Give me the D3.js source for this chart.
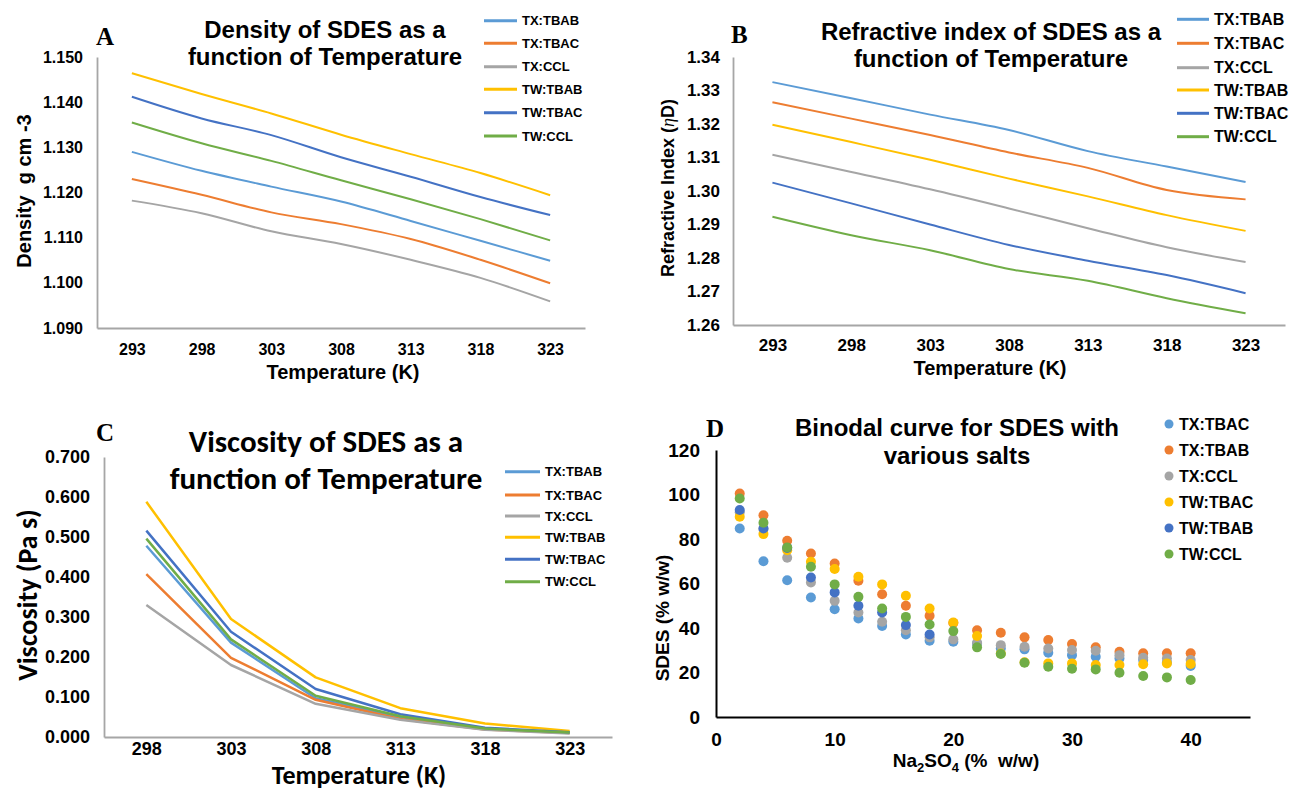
<!DOCTYPE html>
<html>
<head>
<meta charset="utf-8">
<script src="https://cdn.jsdelivr.net/npm/d3@7"></script>
<style>
body { margin: 0; background: #fff; }
svg { display: block; }
text { font-family: "Liberation Sans", Arial, sans-serif; font-weight: bold; fill: #000; white-space: pre; }
</style>
</head>
<body>
<div id="chart"></div>
<script>
// ---- data ----
const temps = [293, 298, 303, 308, 313, 318, 323];
const viscTemps = [298, 303, 308, 313, 318, 323];
const lineNames = ['TX:TBAB', 'TX:TBAC', 'TX:CCL', 'TW:TBAB', 'TW:TBAC', 'TW:CCL'];
const lineColors = ['#5b9bd5', '#ed7d31', '#a5a5a5', '#ffc000', '#4472c4', '#70ad47'];

const densTXTBAB = [1.1290, 1.1248, 1.1213, 1.1180, 1.1137, 1.1093, 1.1049];
const densTXTBAC = [1.1230, 1.1195, 1.1156, 1.1130, 1.1097, 1.1051, 1.0999];
const densTXCCL  = [1.1182, 1.1154, 1.1114, 1.1086, 1.1051, 1.1011, 1.0959];
const densTWTBAB = [1.1464, 1.1418, 1.1375, 1.1328, 1.1285, 1.1243, 1.1194];
const densTWTBAC = [1.1412, 1.1364, 1.1327, 1.1278, 1.1235, 1.1190, 1.1150];
const densTWCCL  = [1.1355, 1.1309, 1.1270, 1.1227, 1.1185, 1.1141, 1.1094];
const densTicks = [1.09, 1.10, 1.11, 1.12, 1.13, 1.14, 1.15];

const riTXTBAB = [1.3325, 1.3277, 1.3228, 1.3182, 1.3119, 1.3073, 1.3027];
const riTXTBAC = [1.3265, 1.3216, 1.3167, 1.3115, 1.3069, 1.3003, 1.2975];
const riTXCCL  = [1.3108, 1.3057, 1.3005, 1.2948, 1.2889, 1.2832, 1.2788];
const riTWTBAB = [1.3198, 1.3146, 1.3093, 1.3037, 1.2984, 1.2928, 1.2881];
const riTWTBAC = [1.3025, 1.2963, 1.2900, 1.2839, 1.2792, 1.2749, 1.2695];
const riTWCCL  = [1.2923, 1.2868, 1.2823, 1.2767, 1.2732, 1.2680, 1.2635];
const riTicks = [1.26, 1.27, 1.28, 1.29, 1.30, 1.31, 1.32, 1.33, 1.34];

const viscTXTBAB = [0.478, 0.236, 0.097, 0.050, 0.020, 0.011];
const viscTXTBAC = [0.407, 0.198, 0.093, 0.045, 0.019, 0.010];
const viscTXCCL  = [0.330, 0.180, 0.083, 0.043, 0.018, 0.009];
const viscTWTBAB = [0.588, 0.295, 0.149, 0.072, 0.034, 0.015];
const viscTWTBAC = [0.516, 0.263, 0.120, 0.057, 0.023, 0.012];
const viscTWCCL  = [0.496, 0.244, 0.103, 0.052, 0.021, 0.011];
const viscTicks = [0, 0.1, 0.2, 0.3, 0.4, 0.5, 0.6, 0.7];

const saltPct = [2, 4, 6, 8, 10, 12, 14, 16, 18, 20, 22, 24, 26, 28, 30, 32, 34, 36, 38, 40];
const scatterNames = ['TX:TBAC', 'TX:TBAB', 'TX:CCL', 'TW:TBAC', 'TW:TBAB', 'TW:CCL'];
const scatterColors = ['#5b9bd5', '#ed7d31', '#a5a5a5', '#ffc000', '#4472c4', '#70ad47'];
const binTXTBAC = [84.7, 70.0, 61.5, 53.7, 48.4, 44.3, 40.9, 37.1, 34.3, 33.8, 33.0, 30.8, 30.4, 28.9, 27.8, 27.1, 26.3, 25.6, 24.5, 22.9];
const binTXTBAB = [100.4, 90.7, 79.2, 73.5, 69.0, 61.2, 55.2, 50.0, 45.5, 42.3, 39.0, 37.9, 35.8, 34.6, 32.8, 31.3, 29.3, 28.6, 28.6, 28.6];
const binTXCCL  = [92.0, 84.5, 71.6, 60.5, 52.2, 47.0, 42.8, 39.0, 35.8, 34.9, 33.4, 32.3, 31.6, 30.8, 30.1, 29.8, 27.8, 26.6, 26.3, 25.6];
const binTWTBAC = [90.0, 82.2, 75.0, 69.8, 66.5, 63.0, 59.6, 54.5, 48.8, 42.5, 36.4, 28.5, 24.6, 24.1, 24.1, 23.4, 23.4, 23.7, 24.1, 23.8];
const binTWTBAB = [93.0, 84.7, 76.0, 62.7, 56.0, 50.0, 47.0, 41.3, 37.1, null, null, null, null, null, null, null, null, null, null, null];
const binTWCCL  = [98.2, 87.3, 76.2, 67.5, 59.6, 54.0, 48.8, 45.0, 41.6, 38.6, 31.3, 28.3, 24.4, 22.6, 21.7, 21.4, 19.9, 18.4, 17.8, 16.6];
const binXTicks = [0, 10, 20, 30, 40];
const binYTicks = [0, 20, 40, 60, 80, 100, 120];

// ---- drawing ----
const svg = d3.select('#chart').append('svg').attr('width', 1293).attr('height', 791);
const SERIF = '"Liberation Serif", "Times New Roman", serif';
const CAL = 'Carlito, Lato, "Open Sans", sans-serif';

function styleAxis(a, color, width, size, family) {
  a.select('.domain').attr('stroke', color).attr('stroke-width', width);
  a.selectAll('text').attr('font-size', size).attr('font-family', family)
    .attr('font-weight', 'bold').attr('fill', '#000');
}

function titleLines(g, lines, cx, ys, size, family) {
  const t = g.append('text').attr('text-anchor', 'middle').attr('font-size', size);
  if (family) t.style('font-family', family);
  lines.forEach((l, i) => t.append('tspan').attr('x', cx).attr('y', ys[i]).text(l));
}

function yTitle(g, cx, cy, size, family) {
  const t = g.append('text').attr('text-anchor', 'middle').attr('font-size', size)
    .attr('transform', 'translate(' + cx + ',' + cy + ') rotate(-90)').attr('dy', '0.35em');
  if (family) t.style('font-family', family);
  return t;
}

function linePanel(p) {
  const g = svg.append('g');
  const x = d3.scalePoint().domain(p.cats).range(p.xr).padding(0.5);
  const y = d3.scaleLinear().domain(p.dom).range(p.yr);
  const fam = '"Liberation Sans", Arial, sans-serif';
  const xa = g.append('g').attr('transform', 'translate(0,' + p.yr[0] + ')')
    .call(d3.axisBottom(x).tickSize(0).tickSizeOuter(0).tickPadding(p.xpad));
  const ya = g.append('g').attr('transform', 'translate(' + p.xr[0] + ',0)')
    .call(d3.axisLeft(y).tickValues(p.ticks).tickFormat(d3.format(p.fmt))
      .tickSize(0).tickSizeOuter(0).tickPadding(p.ypad));
  styleAxis(xa, '#a6a6a6', 1.8, p.tickSize, fam);
  styleAxis(ya, '#a6a6a6', 1.8, p.tickSize, fam);

  const line = d3.line().x((d, j) => x(p.cats[j])).y(d => y(d)).curve(p.curve);
  p.values.forEach((v, i) => {
    g.append('path').datum(v).attr('d', line).attr('fill', 'none')
      .attr('stroke', lineColors[i]).attr('stroke-width', p.lw)
      .attr('stroke-linejoin', 'round');
  });

  // legend
  lineNames.forEach((n, i) => {
    const ly = p.legY[i];
    g.append('line').attr('x1', p.legX).attr('x2', p.legX + p.legLen)
      .attr('y1', ly).attr('y2', ly).attr('stroke', lineColors[i]).attr('stroke-width', 3);
    g.append('text').attr('x', p.legX + p.legLen + 5).attr('y', ly).attr('dy', '0.35em')
      .attr('font-size', p.legSize).text(n);
  });

  titleLines(g, p.title, p.titleX, p.titleY, p.titleSize, p.titleFamily);
  g.append('text').attr('x', p.letter[1]).attr('y', p.letter[2]).attr('font-size', 25)
    .style('font-family', SERIF).text(p.letter[0]);
  const xt = g.append('text').attr('text-anchor', 'middle').attr('x', p.xTitle[0])
    .attr('y', p.xTitle[1]).attr('font-size', p.xTitle[2]).text('Temperature (K)');
  if (p.titleFamily) xt.style('font-family', p.titleFamily);
  return { g: g, x: x, y: y };
}

// A: density
const A = linePanel({
  cats: temps, xr: [97, 585], yr: [328, 57], dom: [1.09, 1.15], ticks: densTicks, fmt: '.3f',
  values: [densTXTBAB, densTXTBAC, densTXCCL, densTWTBAB, densTWTBAC, densTWCCL],
  xpad: 16, ypad: 14, tickSize: 16, lw: 2, curve: d3.curveMonotoneX,
  legX: 484, legLen: 33, legY: [20.7, 43.3, 66.7, 89.3, 112.7, 136], legSize: 13,
  title: ['Density of SDES as a', 'function of Temperature'], titleX: 325, titleY: [38, 65], titleSize: 24,
  letter: ['A', 96, 45], xTitle: [343, 379, 20]
});
yTitle(A.g, 24, 191, 20).text('Density  g cm -3');

// B: refractive index
const B = linePanel({
  cats: temps, xr: [733, 1285], yr: [325, 57], dom: [1.26, 1.34], ticks: riTicks, fmt: '.2f',
  values: [riTXTBAB, riTXTBAC, riTXCCL, riTWTBAB, riTWTBAC, riTWCCL],
  xpad: 14, ypad: 13, tickSize: 17, lw: 2, curve: d3.curveMonotoneX,
  legX: 1177, legLen: 32, legY: [19.3, 43.3, 67.7, 90, 113.3, 136.7], legSize: 16,
  title: ['Refractive index of SDES as a', 'function of Temperature'], titleX: 991, titleY: [40, 67], titleSize: 24,
  letter: ['B', 731, 43], xTitle: [990, 375, 20]
});
const bt = yTitle(B.g, 668, 188, 18);
bt.append('tspan').text('Refractive Index (');
bt.append('tspan').style('font-family', SERIF).attr('font-style', 'italic').attr('font-weight', 'normal').text('η');
bt.append('tspan').text('D)');

// C: viscosity
const C = linePanel({
  cats: viscTemps, xr: [104, 612], yr: [737, 457], dom: [0, 0.7], ticks: viscTicks, fmt: '.3f',
  values: [viscTXTBAB, viscTXTBAC, viscTXCCL, viscTWTBAB, viscTWTBAC, viscTWCCL],
  xpad: 5, ypad: 14, tickSize: 18, lw: 2.5, curve: d3.curveLinear,
  legX: 505, legLen: 35, legY: [471.7, 495, 516, 537.3, 559.3, 581.7], legSize: 13,
  title: ['Viscosity of SDES as a', 'function of Temperature'], titleX: 326, titleY: [452, 489], titleSize: 31,
  titleFamily: CAL, letter: ['C', 96, 441], xTitle: [359, 784, 26]
});
yTitle(C.g, 27, 595, 28, CAL).text('Viscosity (Pa s)');

// D: binodal scatter
(function () {
  const g = svg.append('g');
  const x = d3.scaleLinear().domain([0, 45]).range([716, 1250]);
  const y = d3.scaleLinear().domain([0, 120]).range([717, 450]);
  const xa = g.append('g').attr('transform', 'translate(0,717)')
    .call(d3.axisBottom(x).tickValues(binXTicks).tickSize(0).tickSizeOuter(0).tickPadding(16));
  const ya = g.append('g').attr('transform', 'translate(716,0)')
    .call(d3.axisLeft(y).tickValues(binYTicks).tickSize(0).tickSizeOuter(0).tickPadding(16));
  styleAxis(xa, '#000', 2, 19, '"Liberation Sans", Arial, sans-serif');
  styleAxis(ya, '#000', 2, 19, '"Liberation Sans", Arial, sans-serif');

  const series = [binTXTBAC, binTXTBAB, binTXCCL, binTWTBAC, binTWTBAB, binTWCCL];
  series.forEach((s, i) => {
    g.append('g').selectAll('circle')
      .data(s.map((v, j) => [saltPct[j], v]).filter(d => d[1] != null))
      .enter().append('circle')
      .attr('cx', d => x(d[0])).attr('cy', d => y(d[1])).attr('r', 5)
      .attr('fill', scatterColors[i]);
  });

  const legY = [424, 450, 476, 502, 528, 554];
  scatterNames.forEach((n, i) => {
    g.append('circle').attr('cx', 1169).attr('cy', legY[i]).attr('r', 4.5).attr('fill', scatterColors[i]);
    g.append('text').attr('x', 1179).attr('y', legY[i]).attr('dy', '0.35em')
      .attr('font-size', 16).text(n);
  });

  titleLines(g, ['Binodal curve for SDES with', 'various salts'], 957, [436, 464], 24);
  g.append('text').attr('x', 706).attr('y', 437).attr('font-size', 25)
    .style('font-family', SERIF).text('D');

  const xt = g.append('text').attr('text-anchor', 'middle').attr('x', 966).attr('y', 767).attr('font-size', 19);
  xt.append('tspan').text('Na');
  xt.append('tspan').attr('font-size', 13).attr('dy', 5).text('2');
  xt.append('tspan').attr('dy', -5).text('SO');
  xt.append('tspan').attr('font-size', 13).attr('dy', 5).text('4');
  xt.append('tspan').attr('dy', -5).text(' (%  w/w)');
  yTitle(g, 662, 618, 19).text('SDES (% w/w)');
})();
</script>
</body>
</html>
